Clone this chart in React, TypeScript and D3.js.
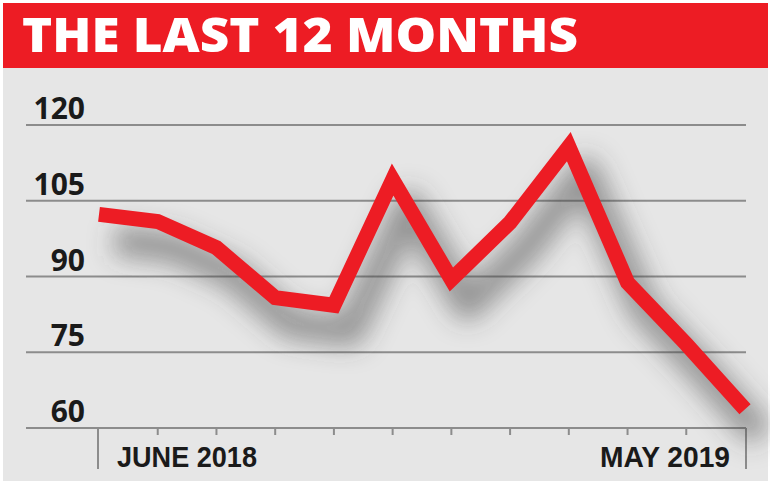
import React from "react";
import * as d3 from "d3";

const months = ["JUN 2018","JUL 2018","AUG 2018","SEP 2018","OCT 2018","NOV 2018","DEC 2018","JAN 2019","FEB 2019","MAR 2019","APR 2019","MAY 2019"];
const values = [102.3, 100.9, 95.7, 85.8, 84.3, 109.2, 89.4, 100.7, 115.7, 88.8, 76.6, 63.7];
const yTicks = [60, 75, 90, 105, 120];
const axisLabels = ["JUNE 2018", "MAY 2019"];
const title = "THE LAST 12 MONTHS";

const W = 770, H = 488;

export default function App() {
  const x = d3.scalePoint<string>().domain(months).range([99, 745]);
  const y = d3.scaleLinear().domain([60, 120]).range([428, 125]);
  const line = d3.line<number>().x((_, i) => x(months[i]) as number).y(d => y(d));
  const d = line(values) || "";
  const x0 = x(months[0]) as number;
  const x1 = x(months[months.length - 1]) as number;
  const yBase = y(60);
  return (
    <svg width={W} height={H} style={{ position: "absolute", left: 0, top: 0 }}>
      <defs>
        <filter id="sh" x="-20%" y="-40%" width="140%" height="180%">
          <feGaussianBlur stdDeviation="13" />
        </filter>
      </defs>
      <rect x={0} y={0} width={W} height={H} fill="#ffffff" />
      <rect x={3} y={3} width={765} height={478} fill="#e6e6e6" />
      <rect x={3} y={3} width={765} height={65} fill="#ed1c24" />
      <text x={22} y={52} fill="#ffffff" fontFamily="'Open Sans', sans-serif" fontWeight={800} fontSize={47} textLength={556} lengthAdjust="spacingAndGlyphs">{title}</text>
      {yTicks.map(t => (
        <g key={t}>
          <line x1={26} x2={746} y1={y(t)} y2={y(t)} stroke="#8c8c8c" strokeWidth={2} />
          <text x={85} y={y(t) - 6} textAnchor="end" fill="#1a1a1a" fontFamily="'Noto Sans', sans-serif" fontWeight={700} fontSize={30}>{t}</text>
        </g>
      ))}
      {months.map((m, i) => {
        const long = i === 0 || i === months.length - 1;
        const xp = (i === months.length - 1 ? 746 : (x(m) as number)) - (i === 0 ? 1 : 0);
        return <line key={m} x1={xp} x2={xp} y1={yBase} y2={long ? yBase + 41 : yBase + 7} stroke="#8c8c8c" strokeWidth={2} />;
      })}
      <text x={x0 + 18} y={467} fill="#1a1a1a" fontFamily="'Liberation Sans Narrow', 'Liberation Sans', sans-serif" fontWeight={700} fontSize={29} textLength={140} lengthAdjust="spacingAndGlyphs">{axisLabels[0]}</text>
      <text x={x1 - 145} y={467} fill="#1a1a1a" fontFamily="'Liberation Sans Narrow', 'Liberation Sans', sans-serif" fontWeight={700} fontSize={29} textLength={130} lengthAdjust="spacingAndGlyphs">{axisLabels[1]}</text>
      <path d={d} transform="translate(16,26)" fill="none" stroke="#444" strokeOpacity={0.5} strokeWidth={30} filter="url(#sh)" strokeLinejoin="round" />
      <path d={d} fill="none" stroke="#ed1c24" strokeWidth={15} strokeLinejoin="miter" strokeMiterlimit={6} strokeLinecap="butt" />
    </svg>
  );
}
